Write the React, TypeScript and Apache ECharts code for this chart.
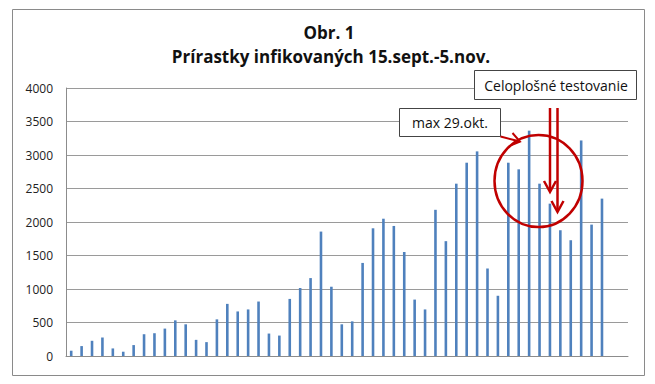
import React, { useEffect, useRef } from "react";
import * as echarts from "echarts";

const dates: string[] = [
  "15.9.", "16.9.", "17.9.", "18.9.", "19.9.", "20.9.", "21.9.", "22.9.", "23.9.", "24.9.",
  "25.9.", "26.9.", "27.9.", "28.9.", "29.9.", "30.9.",
  "1.10.", "2.10.", "3.10.", "4.10.", "5.10.", "6.10.", "7.10.", "8.10.", "9.10.", "10.10.",
  "11.10.", "12.10.", "13.10.", "14.10.", "15.10.", "16.10.", "17.10.", "18.10.", "19.10.", "20.10.",
  "21.10.", "22.10.", "23.10.", "24.10.", "25.10.", "26.10.", "27.10.", "28.10.", "29.10.", "30.10.",
  "31.10.", "1.11.", "2.11.", "3.11.", "4.11.", "5.11.", "6.11.", "7.11."
];

const increments: (number | null)[] = [
  79, 148, 227, 276, 113, 64, 163, 325, 340, 409,
  532, 473, 241, 207, 547, 778,
  665, 695, 813, 335, 305, 852, 1015, 1163, 1857, 1034,
  473, 517, 1389, 1906, 2049, 1941, 1552, 842, 695, 2182,
  1714, 2572, 2885, 3054, 1306, 899, 2885, 2786, 3363, 2572,
  2274, 1877, 1728, 3217, 1961, 2349, null, null
];

const titleLine1 = "Obr. 1";
const titleLine2 = "Prírastky infikovaných 15.sept.-5.nov.";
const noteMax = "max 29.okt.";
const noteTesting = "Celoplošné testovanie";

const RED = "#c00000";
const FONT = "'Open Sans', Lato, sans-serif";

export default function App() {
  const ref = useRef<HTMLDivElement>(null);
  useEffect(() => {
    if (!ref.current) return;
    const chart = echarts.init(ref.current, undefined, { renderer: "svg" });
    chart.setOption({
      animation: false,
      backgroundColor: "#ffffff",
      grid: { left: 66, right: 27, top: 88, bottom: 28, containLabel: false },
      xAxis: {
        type: "category",
        data: dates,
        axisLine: { show: true, lineStyle: { color: "#8c8c8c", width: 1 } },
        axisTick: { show: false },
        axisLabel: { show: false },
        splitLine: { show: false },
      },
      yAxis: {
        type: "value",
        min: 0,
        max: 4000,
        interval: 500,
        axisLine: { show: true, lineStyle: { color: "#8c8c8c", width: 1 } },
        axisTick: { show: false },
        axisLabel: {
          color: "#222",
          fontSize: 12,
          fontFamily: FONT,
          margin: 13,
          formatter: (v: number) => String(v),
        },
        splitLine: { show: true, lineStyle: { color: "#9a9a9a", width: 1 } },
      },
      series: [
        {
          type: "bar",
          data: increments,
          barWidth: 2.6,
          itemStyle: { color: "#4f81bd" },
        },
      ],
      graphic: [
        {
          type: "rect",
          z: -10,
          silent: true,
          shape: { x: 12.5, y: 9.5, width: 632, height: 366 },
          style: { fill: "#ffffff", stroke: "#8a8a8a", lineWidth: 1 },
        },
        {
          type: "text",
          z: 100,
          x: 329,
          y: 32,
          style: {
            text: titleLine1,
            font: `bold 17px ${FONT}`,
            fill: "#111",
            textAlign: "center",
            textVerticalAlign: "middle",
          },
        },
        {
          type: "text",
          z: 100,
          x: 331,
          y: 56,
          style: {
            text: titleLine2,
            font: `bold 17px ${FONT}`,
            fill: "#111",
            textAlign: "center",
            textVerticalAlign: "middle",
          },
        },
        {
          type: "rect",
          z: 100,
          shape: { x: 474.5, y: 70.5, width: 162, height: 29 },
          style: { fill: "#ffffff", stroke: "#444", lineWidth: 1 },
        },
        {
          type: "text",
          z: 101,
          x: 556,
          y: 85,
          style: {
            text: noteTesting,
            font: `14px ${FONT}`,
            fill: "#111",
            textAlign: "center",
            textVerticalAlign: "middle",
          },
        },
        {
          type: "rect",
          z: 100,
          shape: { x: 399.5, y: 108.5, width: 101, height: 28 },
          style: { fill: "#ffffff", stroke: "#444", lineWidth: 1 },
        },
        {
          type: "text",
          z: 101,
          x: 450,
          y: 122.5,
          style: {
            text: noteMax,
            font: `14px ${FONT}`,
            fill: "#111",
            textAlign: "center",
            textVerticalAlign: "middle",
          },
        },
        {
          type: "line",
          z: 100,
          shape: { x1: 500.5, y1: 136.5, x2: 520, y2: 141.5 },
          style: { stroke: RED, lineWidth: 2 },
        },
        {
          type: "polyline",
          z: 100,
          shape: { points: [[512.5, 133], [520, 141.5], [511.5, 145]] },
          style: { stroke: RED, lineWidth: 2, fill: "none" },
        },
        {
          type: "ellipse",
          z: 100,
          shape: { cx: 538.5, cy: 181, rx: 44, ry: 46 },
          style: { stroke: RED, lineWidth: 2.5, fill: "none" },
        },
        {
          type: "line",
          z: 100,
          shape: { x1: 550, y1: 108, x2: 550, y2: 191 },
          style: { stroke: RED, lineWidth: 2.5 },
        },
        {
          type: "polyline",
          z: 100,
          shape: { points: [[544, 181], [550, 192], [556, 181]] },
          style: { stroke: RED, lineWidth: 2.5, fill: "none" },
        },
        {
          type: "line",
          z: 100,
          shape: { x1: 557.5, y1: 108, x2: 557.5, y2: 211 },
          style: { stroke: RED, lineWidth: 2.5 },
        },
        {
          type: "polyline",
          z: 100,
          shape: { points: [[551.5, 201], [557.5, 212], [563.5, 201]] },
          style: { stroke: RED, lineWidth: 2.5, fill: "none" },
        },
      ],
    });
    return () => chart.dispose();
  }, []);
  return (
    <div
      ref={ref}
      style={{ position: "fixed", left: 0, top: 0, width: 655, height: 384 }}
    />
  );
}
